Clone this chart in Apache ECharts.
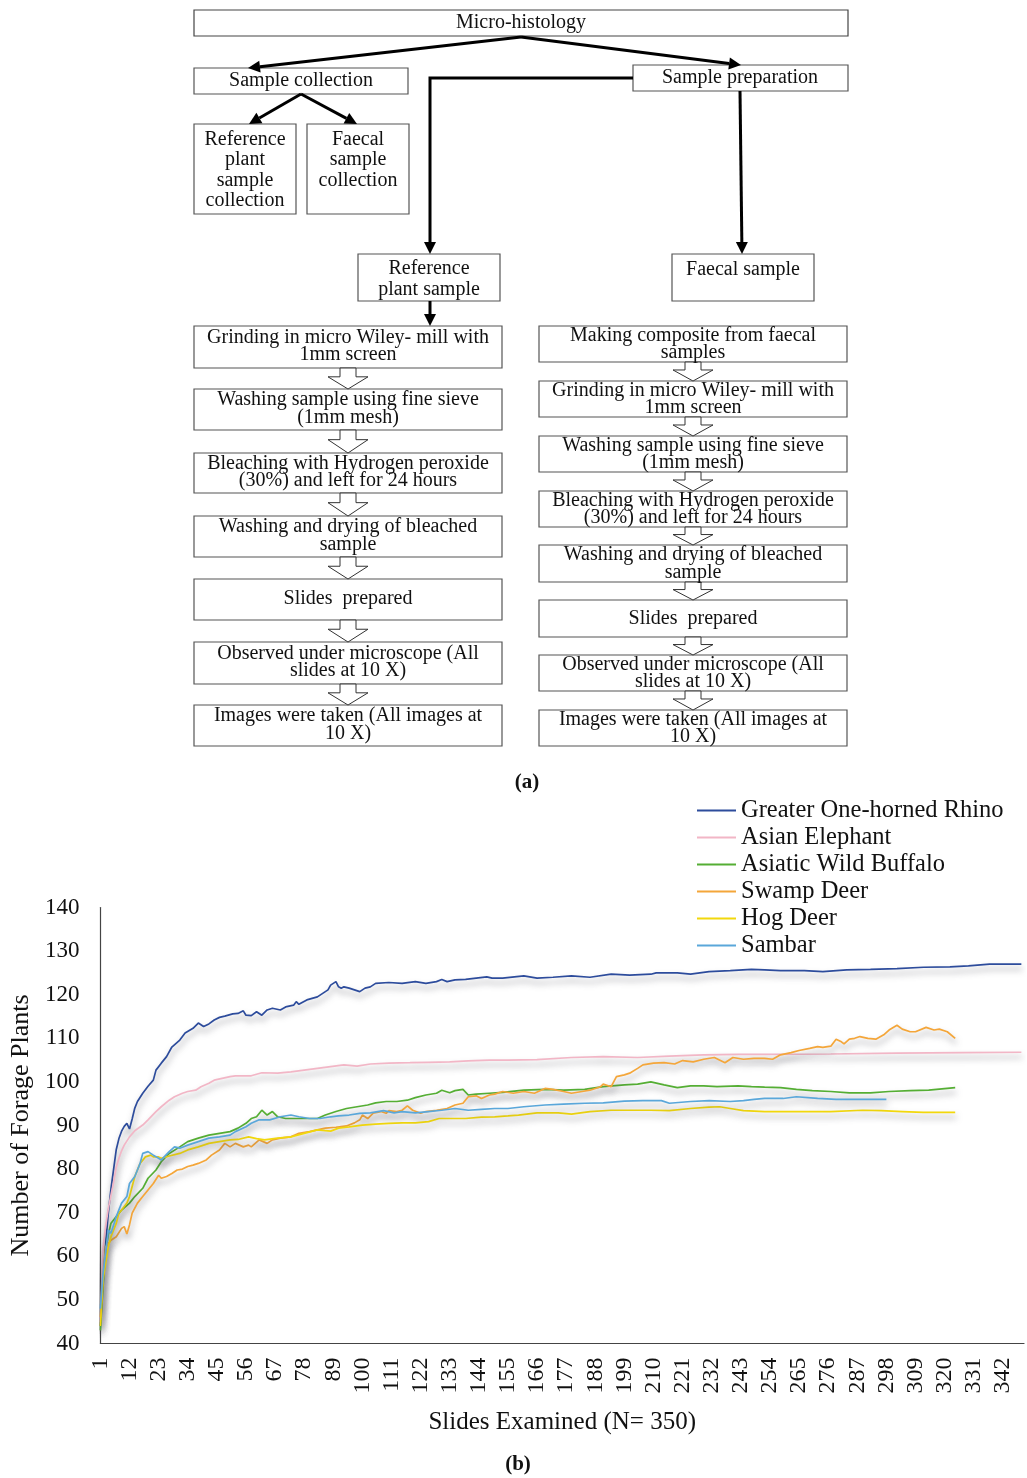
<!DOCTYPE html>
<html>
<head>
<meta charset="utf-8">
<script src="https://cdn.jsdelivr.net/npm/echarts@6/dist/echarts.min.js"></script>
<style>
html,body{margin:0;padding:0;background:#fff;}
#c{width:1027px;height:1478px;}
</style>
</head>
<body>
<div id="c"></div>
<script>
// ---------------- DATA ----------------
// (a) flowchart texts
const flowTitle = 'Micro-histology';
const flowLevel1 = ['Sample collection', 'Sample preparation'];
const flowCollection = ['Reference\nplant\nsample\ncollection', 'Faecal\nsample\ncollection'];
const flowPrep = ['Reference\nplant sample', 'Faecal sample'];
const leftSteps = [
  'Grinding in micro Wiley- mill with\n1mm screen',
  'Washing sample using fine sieve\n(1mm mesh)',
  'Bleaching with Hydrogen peroxide\n(30%) and left for 24 hours',
  'Washing and drying of bleached\nsample',
  'Slides  prepared',
  'Observed under microscope (All\nslides at 10 X)',
  'Images were taken (All images at\n10 X)'
];
const rightSteps = [
  'Making composite from faecal\nsamples',
  'Grinding in micro Wiley- mill with\n1mm screen',
  'Washing sample using fine sieve\n(1mm mesh)',
  'Bleaching with Hydrogen peroxide\n(30%) and left for 24 hours',
  'Washing and drying of bleached\nsample',
  'Slides  prepared',
  'Observed under microscope (All\nslides at 10 X)',
  'Images were taken (All images at\n10 X)'
];
const captions = ['(a)', '(b)'];

// (b) chart
const slides = Array.from({length: 350}, (_, i) => String(i + 1));
const seriesNames = ['Greater One-horned Rhino', 'Asian Elephant', 'Asiatic Wild Buffalo', 'Swamp Deer', 'Hog Deer', 'Sambar'];
const yTicks = [40, 50, 60, 70, 80, 90, 100, 110, 120, 130, 140];

// [slide, number of forage plants]
const rhino = [[1,44],[2,55],[3,63],[4,70],[5,75.5],[6,80],[7,84.5],[8,87],[9,88.7],[10,89.8],[11,90.5],[12,89.2],[13,91.5],[14,94],[15,95.5],[17,97.4],[19,99],[21,100.4],[22,102.7],[24,104.3],[26,105.8],[28,108],[31,109.6],[33,111.2],[36,112.3],[38,113.5],[40,112.7],[42,113.3],[44,114.2],[46,114.8],[48,115.1],[51,115.6],[53,115.7],[55,116.3],[56,115.3],[58,115.2],[60,116.1],[62,115.3],[64,116.5],[66,116.9],[69,116.5],[71,117.2],[74,117.6],[75,118.4],[76,117.8],[79,118.8],[83,119.5],[85,120.3],[87,121.1],[88,122.2],[90,123],[91,121.8],[92,121.5],[93,121.8],[95,121.5],[97,121.1],[99,120.7],[101,121.5],[103,121.8],[105,122.6],[110,122.8],[115,122.6],[120,123],[124,122.6],[128,123],[130,123.5],[132,123],[135,123.4],[139,123.5],[143,123.8],[147,124.1],[149,123.8],[153,123.8],[161,124.3],[166,123.8],[172,124],[179,124.3],[186,124],[194,124.7],[201,124.5],[209,124.7],[211,125],[219,125],[224,124.7],[231,125.3],[239,125.5],[247,125.8],[252,125.7],[258,125.5],[267,125.5],[274,125.3],[283,125.7],[292,125.8],[302,126],[312,126.3],[322,126.4],[329,126.6],[337,127],[345,127],[349,127]];
const elephant = [[1,45],[2,62],[3,67],[4,71],[5,74],[6,77],[7,80.5],[8,82.5],[9,84.2],[10,85.5],[12,87.4],[14,88.8],[17,90.1],[19,91.3],[22,93.2],[24,94.3],[27,95.8],[29,96.6],[32,97.4],[34,97.8],[37,98.1],[39,98.9],[42,99.7],[44,100.4],[47,100.8],[50,101.2],[52,101.4],[56,101.4],[58,101.4],[62,102.1],[68,102],[73,102.3],[78,102.7],[83,103.1],[88,103.5],[93,103.9],[98,103.6],[103,104.1],[110,104.3],[118,104.4],[125,104.5],[133,104.6],[140,104.8],[148,105],[155,105],[166,105.1],[179,105.6],[191,105.8],[204,105.6],[216,105.9],[229,106.2],[242,106.3],[252,106.3],[277,106.4],[302,106.6],[327,106.7],[349,106.8]];
const buffalo = [[1,43],[2,53],[3,61.4],[4,65],[5,67.6],[7,69.1],[9,70.6],[12,72.2],[14,73.7],[17,75.6],[19,77.9],[22,79.8],[24,81.7],[27,83.6],[31,85.1],[34,86.3],[38,87.1],[42,87.8],[46,88.2],[50,88.6],[53,89.4],[56,90.5],[58,91.6],[60,92],[62,93.5],[64,92.4],[66,93.2],[68,92],[71,91.6],[75,91.6],[79,91.6],[83,91.6],[86,92.4],[90,93.2],[94,93.9],[98,94.3],[102,94.7],[105,95.2],[109,95.5],[113,95.5],[117,95.8],[120,96.4],[124,97],[128,97.4],[130,98.1],[133,97.5],[135,98],[138,98.3],[140,97],[143,97.2],[148,97.4],[153,97.6],[161,98.1],[169,98.3],[176,98.1],[184,98.3],[191,98.9],[199,99.3],[204,99.5],[209,100],[214,99.3],[219,98.7],[224,99.1],[229,99.1],[234,98.9],[242,99.1],[247,98.9],[252,98.8],[258,98.7],[264,98.3],[270,98],[277,97.8],[284,97.5],[292,97.5],[299,97.8],[307,98],[314,98.1],[319,98.4],[324,98.7]];
const swampDeer = [[1,46],[2,55],[3,62.2],[5,63.7],[7,64.5],[9,66.4],[10,66.8],[11,65.1],[12,67.2],[13,69.9],[15,72.2],[17,73.7],[19,75.2],[21,76.7],[23,78.6],[24,77.9],[26,78.3],[28,79],[30,79.8],[32,80],[34,80.6],[36,80.9],[38,81.3],[41,82.1],[43,83.2],[46,84.4],[48,85.9],[50,85.1],[52,85.9],[55,85.1],[57,85.5],[58,85.1],[61,86.7],[64,85.9],[66,86.7],[69,87.1],[73,87.4],[76,88.2],[80,88.6],[83,89],[86,89.4],[90,89.6],[94,89.9],[97,90.6],[99,91.3],[100,92.4],[102,91.6],[104,92.8],[107,93.2],[109,92.8],[110,93.4],[113,93.2],[115,93.5],[117,94.5],[119,93.5],[122,92.8],[124,93.2],[128,93.5],[132,93.9],[135,94.7],[138,95.1],[140,96.6],[143,96.8],[145,96.2],[148,97],[150,97.2],[153,97.8],[157,97.4],[161,97.8],[165,97.4],[169,98.5],[172,98.3],[176,97.8],[179,97.4],[183,97.8],[186,98.1],[190,98.9],[191,99.5],[194,98.9],[196,101.2],[199,101.6],[201,102],[204,103.1],[206,103.9],[210,104.3],[214,104.4],[218,104.1],[221,104.9],[225,104.6],[229,105.2],[233,105.6],[237,104.4],[240,105.6],[244,105.2],[248,105.4],[252,105.4],[255,105.2],[258,106.2],[262,106.7],[265,107.2],[269,107.7],[272,108.1],[274,107.9],[277,108.2],[279,109.8],[281,109.2],[282,108.7],[284,109.8],[286,110],[288,110.4],[291,110],[294,109.8],[297,110.8],[299,111.9],[302,113],[304,112.1],[307,111.5],[309,111.5],[313,112.5],[316,111.9],[318,112.1],[321,111.5],[324,110]];
const hogDeer = [[1,44],[2,54.6],[4,62.2],[5,64.5],[7,67.6],[8,69.9],[9,70.6],[11,72.2],[12,73.7],[13,76],[14,78.3],[16,81.3],[18,82.8],[20,83.2],[21,82.8],[23,82.8],[24,82.5],[27,83],[31,83.6],[34,84.4],[38,85.1],[42,85.9],[46,86.3],[50,86.7],[53,86.8],[57,87.4],[60,87],[63,86.7],[68,87.1],[73,87.4],[78,88.2],[83,89],[88,88.7],[91,89.4],[95,89.7],[100,90.1],[105,90.3],[110,90.5],[115,90.6],[120,90.6],[125,90.9],[129,91.6],[134,91.6],[139,91.6],[145,91.9],[150,92],[155,92.2],[159,92.4],[166,92.9],[174,92.9],[179,92.6],[186,93.2],[194,93.5],[201,93.5],[209,93.5],[216,93.4],[224,93.9],[231,94.2],[235,94.3],[239,93.9],[244,93.4],[252,93.2],[264,93.2],[277,93.2],[289,93.5],[296,93.4],[304,93.2],[312,93],[324,93]];
const sambar = [[1,48],[2,56],[4,66],[5,65.3],[7,69.1],[9,72.2],[11,73.7],[12,76.7],[14,78.3],[16,81.3],[17,83.6],[19,84],[21,83.2],[23,82.5],[24,82.1],[27,84],[29,85.1],[31,84.8],[34,85.5],[38,86.3],[42,87.1],[46,87.4],[50,87.8],[52,88.6],[56,89.7],[58,90.5],[61,91.3],[65,91.3],[69,92],[73,92.4],[76,92],[80,91.6],[84,91.6],[88,92],[91,92.2],[95,92.4],[99,92.8],[103,92.9],[108,93.4],[112,92.9],[115,93.2],[120,92.9],[125,93.2],[130,93.5],[135,93.9],[140,93.5],[145,93.7],[150,93.9],[155,93.9],[161,94.3],[169,94.7],[176,94.9],[184,95.1],[191,95.2],[199,95.6],[206,95.7],[213,95.7],[216,95.1],[224,95.5],[231,95.7],[239,95.5],[244,95.7],[248,96],[252,96.2],[259,96.2],[264,96.6],[272,96.2],[279,96],[287,96],[293,96],[298,96]];

// ---------------- STYLE / LAYOUT ----------------
const colors = ['#2D4C9C', '#F2B6C6', '#55AE34', '#F4A63A', '#F2D80C', '#5AA7DA'];
const SERIF = '"Liberation Serif", "Times New Roman", serif';
const FONT = '20px ' + SERIF;

const L = { x: 194, w: 308 };
const R = { x: 539, w: 308 };
const leftBoxY = [[326,368],[389,430],[453,493],[516,557],[579,620],[642,684],[705,746]];
const rightBoxY = [[326,362],[381,417],[436,472],[491,527],[545,582],[600,637],[655,691],[710,746]];

const g = [];
function box(x, y, w, h, stroke) {
  g.push({type: 'rect', shape: {x: x, y: y, width: w, height: h},
    style: {fill: '#fff', stroke: stroke || '#555', lineWidth: 1.2}, z: 1});
}
function txt(t, x, y, va, lh, font) {
  g.push({type: 'text', style: {text: t, x: x, y: y, align: 'center', verticalAlign: va || 'middle',
    font: font || FONT, fill: '#111', lineHeight: lh || 17.5}, z: 3});
}
function arrowHead(x1, y1, x2, y2) {
  const a = Math.atan2(y2 - y1, x2 - x1), len = 12, hw = 6;
  const bx = x2 - len * Math.cos(a), by = y2 - len * Math.sin(a);
  const px = -Math.sin(a) * hw, py = Math.cos(a) * hw;
  g.push({type: 'polygon', shape: {points: [[x2, y2], [bx + px, by + py], [bx - px, by - py]]},
    style: {fill: '#000'}, z: 2});
  return [bx, by];
}
function arrow(pts) {
  const n = pts.length;
  const b = arrowHead(pts[n - 2][0], pts[n - 2][1], pts[n - 1][0], pts[n - 1][1]);
  const p = pts.slice(0, n - 1).concat([[b[0], b[1]]]);
  g.push({type: 'polyline', shape: {points: p}, style: {stroke: '#000', lineWidth: 3, fill: null}, z: 2});
}
function hollow(cx, yTop, yBot) {
  const ym = yTop + (yBot - yTop) * 0.42;
  g.push({type: 'polygon', shape: {points: [[cx - 8, yTop], [cx + 8, yTop], [cx + 8, ym], [cx + 20, ym], [cx, yBot], [cx - 20, ym], [cx - 8, ym]]},
    style: {fill: '#fff', stroke: '#333', lineWidth: 1}, z: 2});
}

// top
box(194, 10, 654, 26, '#444');
txt(flowTitle, 521, 23);
box(194, 68, 214, 26);
txt(flowLevel1[0], 301, 81);
box(633, 65, 215, 26);
txt(flowLevel1[1], 740, 78);
arrow([[521, 37], [248, 68]]);
arrow([[521, 37], [741, 65]]);
arrow([[301, 94], [249, 124]]);
arrow([[301, 94], [357, 124]]);
box(194, 124, 102, 90);
txt(flowCollection[0], 245, 129, 'top', 20.5);
box(307, 124, 102, 90);
txt(flowCollection[1], 358, 129, 'top', 20.5);
arrow([[633, 78], [430, 78], [430, 254]]);
arrow([[740, 91], [742, 254]]);
box(358, 254, 142, 47);
txt(flowPrep[0], 429, 279, 'middle', 20.5);
box(672, 254, 142, 47);
txt(flowPrep[1], 743, 259, 'top', 20.5);
arrow([[430, 301], [430, 326]]);

leftSteps.forEach((t, i) => {
  const [y0, y1] = leftBoxY[i];
  box(L.x, y0, L.w, y1 - y0);
  txt(t, L.x + L.w / 2, (y0 + y1) / 2 - 1);
  if (i < leftSteps.length - 1) hollow(L.x + L.w / 2, y1, leftBoxY[i + 1][0]);
});
rightSteps.forEach((t, i) => {
  const [y0, y1] = rightBoxY[i];
  box(R.x, y0, R.w, y1 - y0);
  txt(t, R.x + R.w / 2, (y0 + y1) / 2);
  if (i < rightSteps.length - 1) hollow(R.x + R.w / 2, y1, rightBoxY[i + 1][0]);
});
txt(captions[0], 527, 783, 'middle', 20, 'bold 21px ' + SERIF);
txt(captions[1], 518, 1465, 'middle', 20, 'bold 21px ' + SERIF);

// ---------------- CHART ----------------
const seriesData = [rhino, elephant, buffalo, swampDeer, hogDeer, sambar];
const chart = echarts.init(document.getElementById('c'), null, {renderer: 'canvas'});
chart.setOption({
  animation: false,
  backgroundColor: '#fff',
  color: colors,
  graphic: {elements: g},
  legend: {
    left: 697, top: 797, orient: 'vertical', itemGap: 0, padding: 0,
    icon: 'rect', itemWidth: 39, itemHeight: 2,
    textStyle: {fontFamily: SERIF, fontSize: 24.5, color: '#111', lineHeight: 27},
    data: seriesNames
  },
  grid: {left: 100, right: 3, top: 907.5, bottom: 134.5, containLabel: false},
  xAxis: {
    type: 'category', data: slides, boundaryGap: false,
    name: 'Slides Examined (N= 350)', nameLocation: 'middle', nameGap: 66,
    nameTextStyle: {fontFamily: SERIF, fontSize: 25, color: '#111'},
    axisLine: {lineStyle: {color: '#444', width: 1.2}},
    axisTick: {show: false},
    axisLabel: {interval: 10, rotate: 90, margin: 14, hideOverlap: false,
      fontFamily: SERIF, fontSize: 24, color: '#111'},
    splitLine: {show: false}
  },
  yAxis: {
    type: 'value', min: yTicks[0], max: yTicks[yTicks.length - 1], interval: 10,
    name: 'Number of Forage Plants', nameLocation: 'middle', nameGap: 64,
    nameTextStyle: {fontFamily: SERIF, fontSize: 26, color: '#111'},
    axisLine: {show: true, lineStyle: {color: '#444', width: 1.2}},
    axisTick: {show: false},
    axisLabel: {margin: 21, fontFamily: SERIF, fontSize: 23, color: '#111'},
    splitLine: {show: false}
  },
  series: seriesNames.map((n, i) => ({
    name: n, type: 'line', showSymbol: false, symbol: 'none',
    data: seriesData[i].map(p => [p[0] - 1, p[1]]),
    lineStyle: {width: 1.7, color: colors[i],
      shadowColor: 'rgba(70,70,80,0.55)', shadowBlur: 6, shadowOffsetY: 5, shadowOffsetX: 1},
    z: 2 + i
  }))
});
</script>
</body>
</html>
